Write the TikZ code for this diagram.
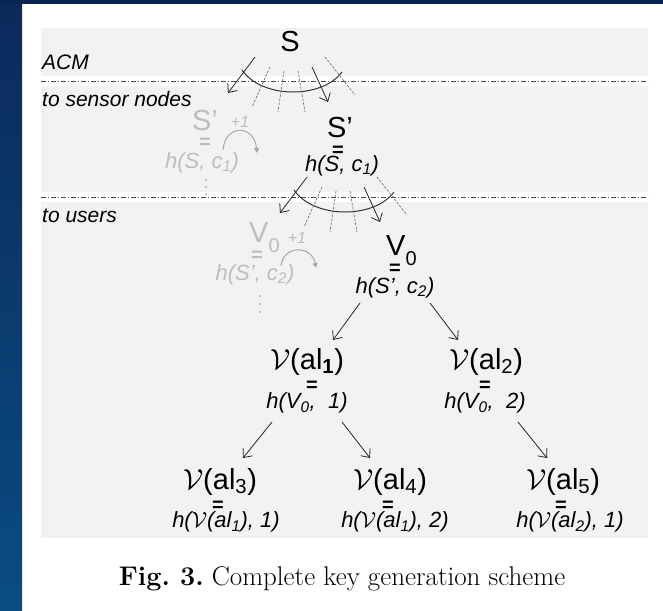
\RequirePackage{fix-cm}
\documentclass[tikz,border=0pt]{standalone}
\usepackage{fontspec}
\newfontfamily\arial{Liberation Sans}
\usetikzlibrary{arrows.meta}
\frenchspacing

\definecolor{panelgray}{HTML}{F2F2F2}
\definecolor{ghostgray}{HTML}{BDBDBD}
\definecolor{ghostline}{HTML}{A8A8A8}
\definecolor{stripTop}{HTML}{0B2A5A}
\definecolor{stripBot}{HTML}{0A4C82}
\definecolor{navy}{HTML}{0A2552}

% one fan of derived keys: the arc with its dashed rays and two arrows
\newcommand\keyfan[3]{%
  \begin{scope}[shift={(#2,#3)}]
    \draw[fanarc] (-48,46) .. controls (-28,75) and (32,75) .. (52,48);
    \draw[ray] (-20,43) -- (-38,83);
    \draw[ray] (-6,47) -- (-12,88);
    \draw[ray] (8,47) -- (15,88);
    \draw[ray] (35,33) -- (65,71);
    \coordinate (#1-ls) at (-35,33);
    \coordinate (#1-lt) at (-62,69);
    \coordinate (#1-rs) at (22,43);
    \coordinate (#1-rt) at (38,78);
    \draw[conn] (#1-ls) -- (#1-lt);
    \draw[conn] (#1-rs) -- (#1-rt);
  \end{scope}}

\begin{document}
\begin{tikzpicture}[x=1pt,y=-1pt,
  lab/.style={font=\arial\itshape\fontsize{21}{24}\selectfont, anchor=base west, inner sep=0},
  big/.style={font=\arial\fontsize{29}{33}\selectfont, inner sep=0},
  bigv/.style={font=\arial\fontsize{29}{33}\selectfont, inner sep=0},
  hval/.style={font=\arial\itshape\fontsize{22}{26}\selectfont, inner sep=0},
  eqs/.style={font=\arial\bfseries\fontsize{20}{24}\selectfont, inner sep=0},
  plus/.style={font=\arial\itshape\fontsize{16}{18}\selectfont, inner sep=0, text=ghostgray},
  ghost/.style={text=ghostgray},
  conn/.style={-{Straight Barb[length=7pt,width=12pt]}, line width=0.8pt, black!85},
  ray/.style={dash pattern=on 2.5pt off 1.5pt, line width=0.7pt, black!55},
  fanarc/.style={line width=1pt, black!80},
  loopy/.style={-{Triangle[length=5pt,width=5pt]}, line width=1pt, ghostline},
  sep/.style={dash pattern=on 5pt off 2pt on 1pt off 2pt, line width=0.8pt, black!70}
]
\useasboundingbox (0,0) rectangle (663,610);

% page background
\fill[white] (0,0) rectangle (663,610);
\shade[top color=stripTop, bottom color=stripBot] (0,0) rectangle (22,610);
\fill[navy] (0,0) rectangle (663,4);

% shaded bands of the scheme
\fill[panelgray] (41,28) rectangle (648,76);
\fill[panelgray] (41,86) rectangle (648,192);
\fill[panelgray] (41,202) rectangle (648,538);
\draw[sep] (41,81) -- (648,81);
\draw[sep] (41,197) -- (648,197);

% band labels
\node[lab] (acm) at (42,70) {ACM};
\node[lab] (tosens) at (42,106) {to sensor nodes};
\node[lab] (tousers) at (42,222) {to users};

% master secret and first derivation
\node[big] (s) at (290,42) {S};
\keyfan{fa}{290}{24}

\node[big,ghost] (gs) at (205,121) {S’};
\node[eqs,ghost] (gs-eq) at (205,143) {=};
\node[hval,ghost] (gs-h) at (202,163) {h(S, c\textsubscript{1})};
\node[plus] (gs-p) at (240,122) {+1};
\draw[loopy] (223,150) .. controls (225,124) and (254,124) .. (257,153);
\foreach \y in {180,187,194} \fill[ghostline] (206,\y) circle (1pt);

\node[big] (sp) at (340,128) {S’};
\node[eqs] (sp-eq) at (338,151) {=};
\node[hval] (sp-h) at (342,166) {h(S, c\textsubscript{1})};

% second derivation
\keyfan{fb}{342}{144}

\node[big,ghost,anchor=base west] (gv) at (249,242) {V\raisebox{-10pt}{\fontsize{20}{24}\selectfont 0}};
\node[eqs,ghost] (gv-eq) at (257,256) {=};
\node[plus] (gv-p) at (297,238) {+1};
\draw[loopy] (281,266) .. controls (283,245) and (312,245) .. (316,268);
\node[hval,ghost] (gv-h) at (255,275) {h(S’, c\textsubscript{2})};
\foreach \y in {296,304,312} \fill[ghostline] (260,\y) circle (1pt);

\node[big,anchor=base west] (v0) at (386,255) {V\raisebox{-10pt}{\fontsize{20}{24}\selectfont 0}};
\node[eqs] (v0-eq) at (395,269) {=};
\node[hval] (v0-h) at (395,288) {h(S’, c\textsubscript{2})};

% user keys, second level
\coordinate (e1s) at (360,303); \coordinate (e1t) at (333,340);
\coordinate (e2s) at (430,303); \coordinate (e2t) at (458,340);
\draw[conn] (e1s) -- (e1t);
\draw[conn] (e2s) -- (e2t);

\node[bigv] (al1) at (307,362) {$\mathcal{V}$(al\textsubscript{\textbf{1}})};
\node[eqs] (al1-eq) at (312,386) {=};
\node[hval] (al1-h) at (307,403) {h(V\textsubscript{0},\ \ 1)};

\node[bigv] (al2) at (486,362) {$\mathcal{V}$(al\textsubscript{2})};
\node[eqs] (al2-eq) at (485,386) {=};
\node[hval] (al2-h) at (485,403) {h(V\textsubscript{0},\ \ 2)};

% user keys, third level
\coordinate (e3s) at (272,422); \coordinate (e3t) at (243,458);
\coordinate (e4s) at (342,422); \coordinate (e4t) at (370,458);
\coordinate (e5s) at (518,422); \coordinate (e5t) at (547,458);
\draw[conn] (e3s) -- (e3t);
\draw[conn] (e4s) -- (e4t);
\draw[conn] (e5s) -- (e5t);

\node[bigv] (al3) at (220,482) {$\mathcal{V}$(al\textsubscript{3})};
\node[eqs] (al3-eq) at (218,506) {=};
\node[hval] (al3-h) at (226,522) {h($\mathcal{V}$(al\textsubscript{1}), 1)};

\node[bigv] (al4) at (390,482) {$\mathcal{V}$(al\textsubscript{4})};
\node[eqs] (al4-eq) at (388,506) {=};
\node[hval] (al4-h) at (395,522) {h($\mathcal{V}$(al\textsubscript{1}), 2)};

\node[bigv] (al5) at (563,482) {$\mathcal{V}$(al\textsubscript{5})};
\node[eqs] (al5-eq) at (561,506) {=};
\node[hval] (al5-h) at (570,522) {h($\mathcal{V}$(al\textsubscript{2}), 1)};

% caption
\node[font=\fontsize{27}{31}\selectfont, inner sep=0] (cap) at (342,579) {\textbf{Fig. 3.} Complete key generation scheme};
\end{tikzpicture}
\end{document}
